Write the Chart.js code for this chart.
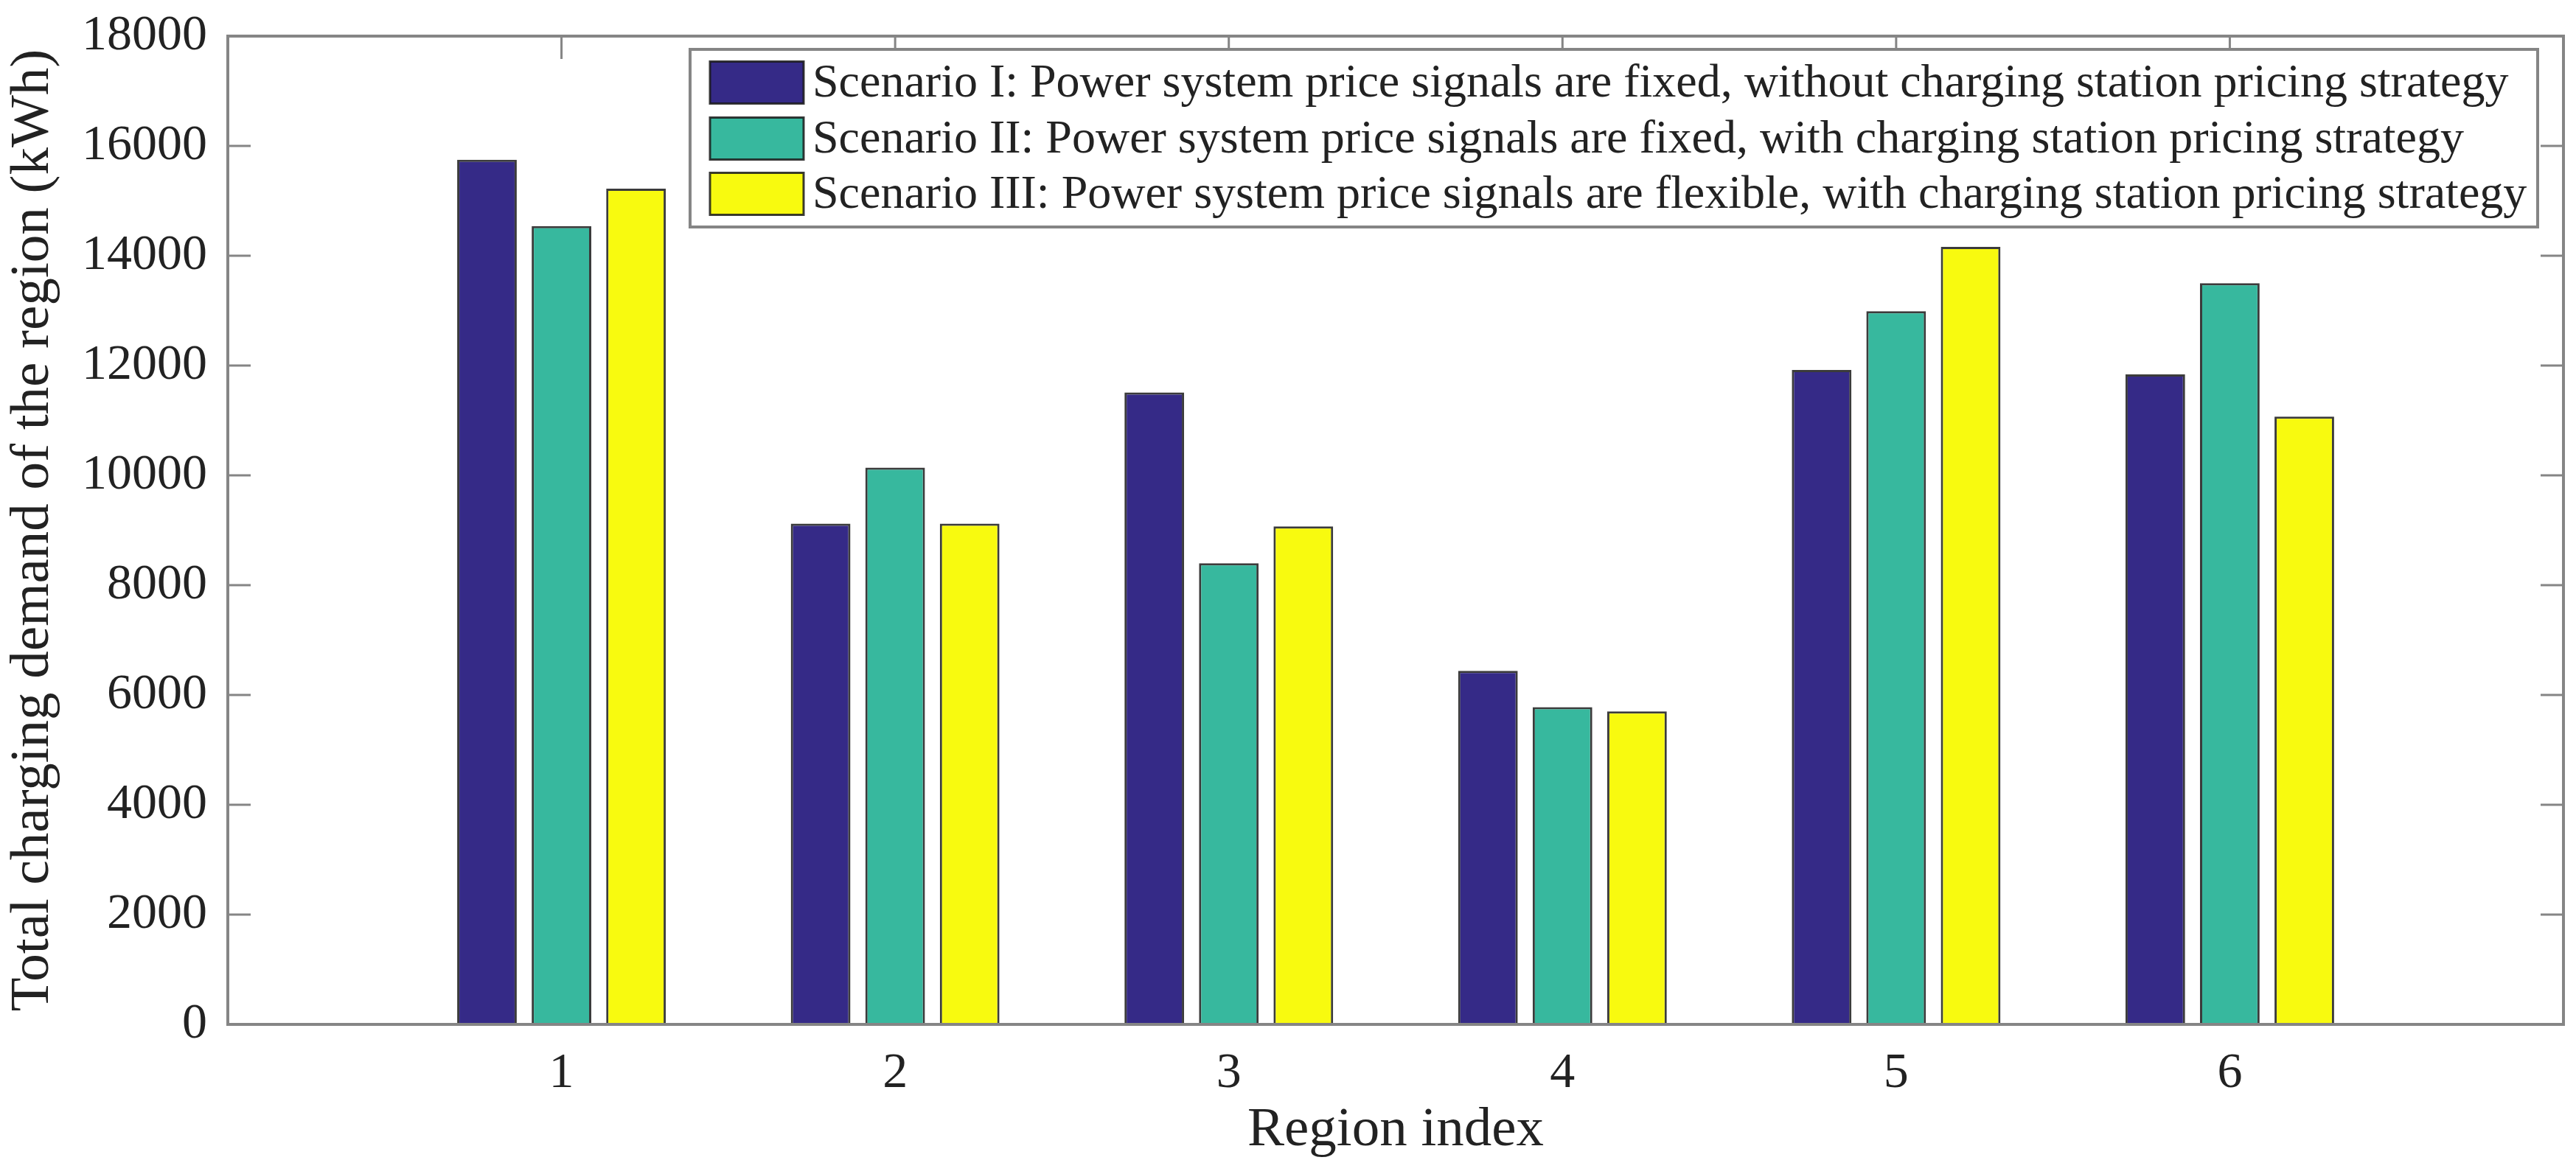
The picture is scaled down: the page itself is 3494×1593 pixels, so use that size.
<!DOCTYPE html>
<html><head><meta charset="utf-8">
<script src="https://cdn.jsdelivr.net/npm/chart.js@4.4.1/dist/chart.umd.min.js"></script>
<style>html,body{margin:0;padding:0;background:#fff;} canvas{display:block;}</style>
</head><body>
<div style="width:3494px;height:1593px;"><canvas id="c" width="3494" height="1593"></canvas></div>
<script>
const regions = [1, 2, 3, 4, 5, 6];
const xTickLabels = ['1', '2', '3', '4', '5', '6'];
const scenario1 = [15750, 9120, 11510, 6440, 11920, 11840];
const scenario2 = [14540, 10140, 8400, 5780, 12990, 13500];
const scenario3 = [15220, 9120, 9070, 5700, 14160, 11070];
const seriesLabels = [
  'Scenario I: Power system price signals are fixed, without charging station pricing strategy',
  'Scenario II: Power system price signals are fixed, with charging station pricing strategy',
  'Scenario III: Power system price signals are flexible, with charging station pricing strategy'
];
const yMin = 0, yMax = 18000, yStep = 2000;
const xMin = 0, xMax = 7;
const yTitle = 'Total charging demand of the region (kWh)';
const xTitle = 'Region index';

const colors = ['#352a87', '#37b89e', '#f8fa0f'];
const edge = 'rgba(25,25,25,0.85)';
const axisGray = '#858585';
const textColor = '#222222';
const FAMILY = "'Liberation Serif', 'Times New Roman', serif";

Chart.defaults.font.family = FAMILY;
Chart.defaults.color = textColor;

function pts(vals) { return regions.map((r, i) => ({ x: r, y: vals[i] })); }

const framePlugin = {
  id: 'frame',
  beforeDatasetsDraw(chart) {
    const ctx = chart.ctx, a = chart.chartArea;
    const xs = chart.scales.x, ys = chart.scales.y;
    ctx.save();
    ctx.strokeStyle = axisGray;
    ctx.lineWidth = 3;
    const tl = 31;
    for (let v = yMin; v <= yMax; v += yStep) {
      const y = ys.getPixelForValue(v);
      ctx.beginPath();
      ctx.moveTo(a.left, y); ctx.lineTo(a.left + tl, y);
      ctx.moveTo(a.right, y); ctx.lineTo(a.right - tl, y);
      ctx.stroke();
    }
    regions.forEach(r => {
      const x = xs.getPixelForValue(r);
      ctx.beginPath();
      ctx.moveTo(x, a.bottom); ctx.lineTo(x, a.bottom - tl);
      ctx.moveTo(x, a.top); ctx.lineTo(x, a.top + tl);
      ctx.stroke();
    });
    ctx.restore();
  },
  afterDatasetsDraw(chart) {
    const ctx = chart.ctx, a = chart.chartArea;
    ctx.save();
    ctx.strokeStyle = axisGray;
    ctx.lineWidth = 4;
    ctx.strokeRect(a.left, a.top, a.right - a.left, a.bottom - a.top);
    // legend
    const L = 936, T = 67, R = 3442, B = 308;
    ctx.fillStyle = '#ffffff';
    ctx.fillRect(L, T, R - L, B - T);
    ctx.strokeRect(L, T, R - L, B - T);
    const rowY = [112, 188, 263];
    ctx.font = "64px " + FAMILY;
    ctx.textBaseline = 'middle';
    ctx.textAlign = 'left';
    chart.data.datasets.forEach((ds, i) => {
      const sx = 963, sw = 127, sh = 57;
      ctx.fillStyle = ds.backgroundColor;
      ctx.fillRect(sx, rowY[i] - sh / 2, sw, sh);
      ctx.strokeStyle = edge;
      ctx.lineWidth = 3;
      ctx.strokeRect(sx, rowY[i] - sh / 2, sw, sh);
      ctx.fillStyle = textColor;
      ctx.fillText(ds.label, 1102, rowY[i] + 2);
    });
    ctx.restore();
  }
};

const dsCommon = { borderColor: edge, borderWidth: 3, borderSkipped: 'start', categoryPercentage: 0.67, barPercentage: 0.8 };

new Chart(document.getElementById('c'), {
  type: 'bar',
  data: {
    datasets: [
      Object.assign({ label: seriesLabels[0], data: pts(scenario1), backgroundColor: colors[0] }, dsCommon),
      Object.assign({ label: seriesLabels[1], data: pts(scenario2), backgroundColor: colors[1] }, dsCommon),
      Object.assign({ label: seriesLabels[2], data: pts(scenario3), backgroundColor: colors[2] }, dsCommon)
    ]
  },
  options: {
    responsive: false,
    animation: false,
    devicePixelRatio: 1,
    layout: { padding: { top: 49, right: 17, left: 0, bottom: 0 } },
    plugins: { legend: { display: false }, tooltip: { enabled: false } },
    scales: {
      x: {
        type: 'linear', min: xMin, max: xMax, offset: false,
        grid: { display: false, drawTicks: false },
        border: { display: false },
        ticks: {
          stepSize: 1, autoSkip: false, maxRotation: 0, padding: 26,
          font: { size: 68, family: FAMILY }, color: textColor,
          callback: v => (v >= 1 && v <= regions.length) ? xTickLabels[v - 1] : ''
        },
        title: { display: true, text: xTitle, font: { size: 75, family: FAMILY }, color: textColor, padding: { top: 0, bottom: 14 } },
        afterFit: s => { s.height = 203; s.paddingLeft = 0; s.paddingRight = 0; }
      },
      y: {
        min: yMin, max: yMax,
        grid: { display: false, drawTicks: false },
        border: { display: false },
        ticks: { stepSize: yStep, padding: 28, font: { size: 68, family: FAMILY }, color: textColor, callback: v => String(v) },
        title: { display: true, text: yTitle, font: { size: 75, family: FAMILY }, color: textColor, padding: { top: 0, bottom: 0 } },
        afterFit: s => { s.width = 309; s.paddingTop = 0; s.paddingBottom = 0; }
      }
    }
  },
  plugins: [framePlugin]
});
</script>
</body></html>
